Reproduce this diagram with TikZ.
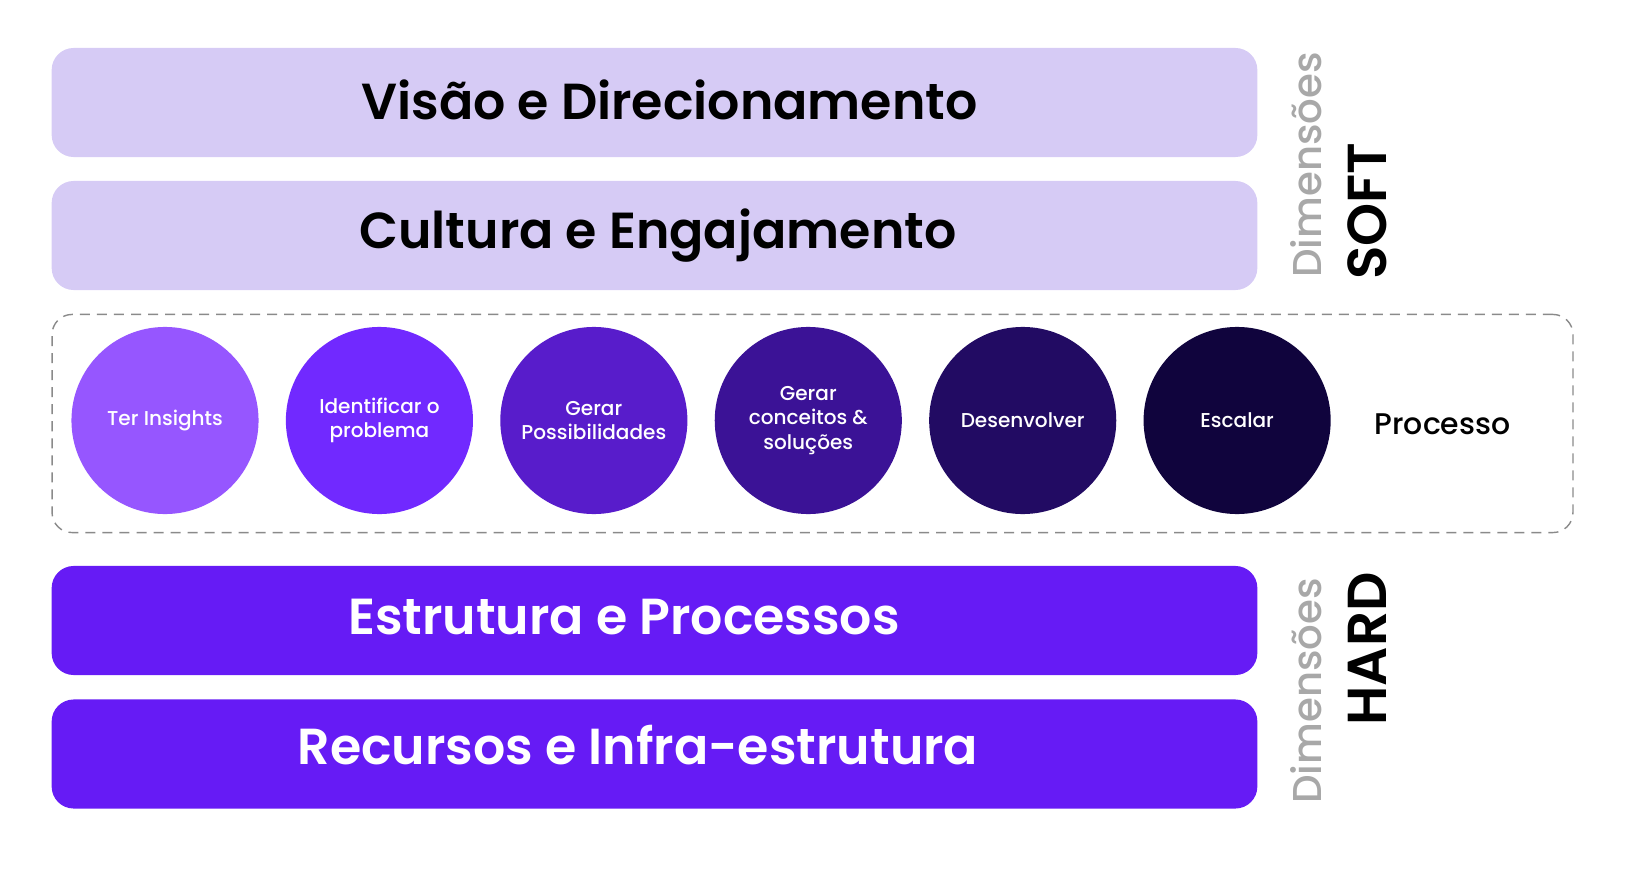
\documentclass[tikz,border=0pt]{standalone}
\usepackage{fontspec}
\setmainfont{Poppins}[BoldFont={Poppins SemiBold}]
\newfontfamily\popmed{Poppins Medium}
\usetikzlibrary{positioning}

\definecolor{softfill}{HTML}{D6CBF5}
\definecolor{hardfill}{HTML}{661BF5}
\definecolor{dimgray}{HTML}{A8A8A8}
\definecolor{boxgray}{HTML}{8A8A8A}
\definecolor{stageA}{HTML}{9656FF}
\definecolor{stageB}{HTML}{7129FF}
\definecolor{stageC}{HTML}{581CCB}
\definecolor{stageD}{HTML}{3B1296}
\definecolor{stageE}{HTML}{220B63}
\definecolor{stageF}{HTML}{10043D}

\begin{document}
\begin{tikzpicture}[x=0.01cm,y=0.01cm,node distance=2.143cm,on grid,
    bar/.style={rectangle,rounded corners=0.22cm,minimum width=12.05cm,minimum height=1.09cm,inner sep=0pt},
    softbar/.style={bar,fill=softfill},
    hardbar/.style={bar,fill=hardfill},
    bartext/.style={anchor=base,font=\bfseries\fontsize{14.4}{17}\selectfont},
    stage/.style={circle,minimum size=1.87cm,inner sep=0pt,text=white,align=center,
      font=\popmed\fontsize{5.7}{7}\selectfont},
    dimlabel/.style={rotate=90,text=dimgray,font=\popmed\fontsize{11.45}{14}\selectfont},
    dimtag/.style={rotate=90,font=\bfseries\fontsize{15.6}{18}\selectfont}]
   \useasboundingbox (0,0) rectangle (1643,869);
   % soft bars
   \node[softbar] (visao) at (654.5,766.5) {};
   \node[softbar] (cultura) at (654.5,633.5) {};
   \node[bartext] (visaotxt) at ([xshift=0.15cm,yshift=-0.165cm]visao.center) {Visão e Direcionamento};
   \node[bartext] (culturatxt) at ([xshift=0.035cm,yshift=-0.125cm]cultura.center) {Cultura e Engajamento};
   % process
   \node[draw=boxgray,dashed,dash pattern=on 0.1cm off 0.07cm,rounded corners=0.2cm,
     minimum width=15.2cm,minimum height=2.18cm] (proc) at (812.5,445.5) {};
   \node[stage,fill=stageA] (s1) at (165,448.5) {Ter Insights};
   \node[stage,fill=stageB] (s2) [right=of s1] {Identificar o\\problema};
   \node[stage,fill=stageC] (s3) [right=of s2] {Gerar\\Possibilidades};
   \node[stage,fill=stageD] (s4) [right=of s3] {Gerar\\conceitos \&\\soluções};
   \node[stage,fill=stageE] (s5) [right=of s4] {Desenvolver};
   \node[stage,fill=stageF] (s6) [right=of s5] {Escalar};
   \node[font=\popmed\fontsize{8.5}{10}\selectfont] (proctxt) at (1442.5,445) {Processo};
   % hard bars
   \node[hardbar] (estrutura) at (654.5,248.5) {};
   \node[hardbar] (recursos) at (654.5,115) {};
   \node[bartext,text=white] (estruturatxt) at ([xshift=-0.305cm,yshift=-0.135cm]estrutura.center) {Estrutura e Processos};
   \node[bartext,text=white] (recursostxt) at ([xshift=-0.165cm,yshift=-0.1cm]recursos.center) {Recursos e Infra-estrutura};
   % side labels
   \node[dimlabel] (softdim) at (1306,704) {Dimensões};
   \node[dimtag] (softtag) at (1367,658) {SOFT};
   \node[dimlabel] (harddim) at (1306,178) {Dimensões};
   \node[dimtag] (hardtag) at (1367,220) {HARD};
\end{tikzpicture}
\end{document}
